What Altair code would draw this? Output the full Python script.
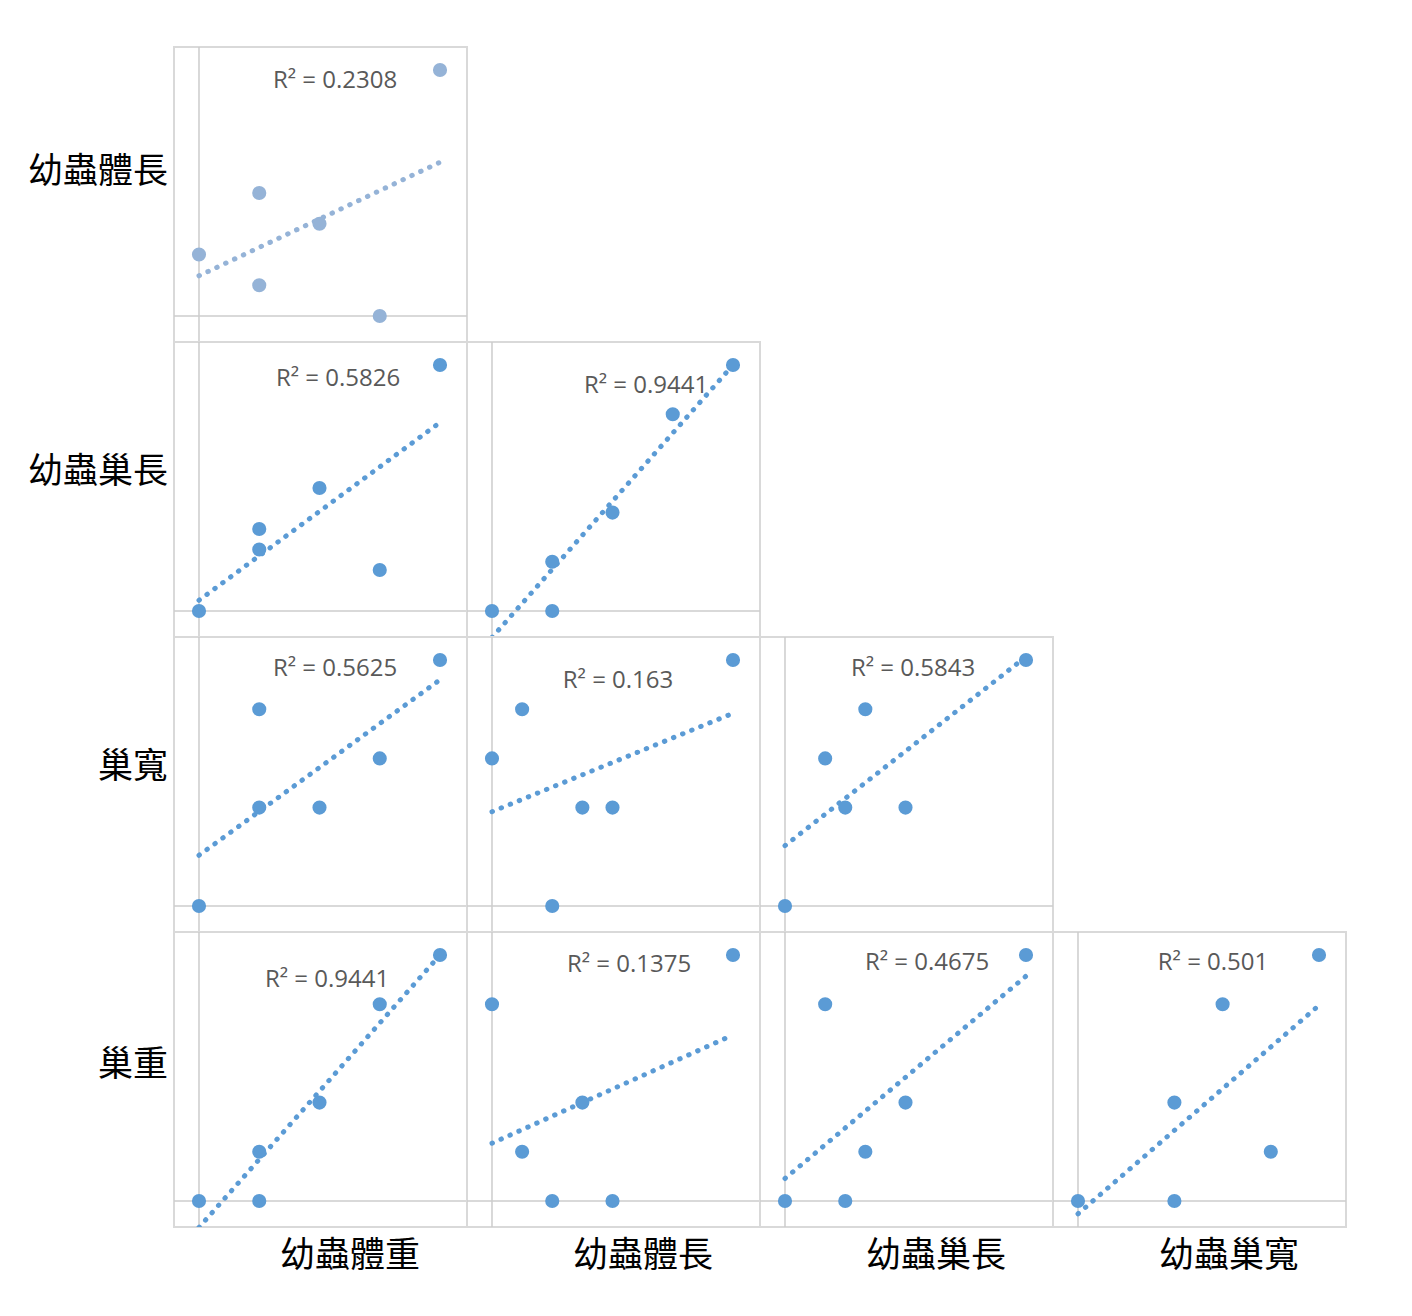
import altair as alt
import pandas as pd

# ---- data (six samples) ----
larva_weight = [0, 1, 1, 2, 3, 4]      # 幼蟲體重
larva_length = [2, 4, 1, 3, 0, 8]      # 幼蟲體長
nest_length = [0, 3, 4, 6, 2, 12]      # 幼蟲巢長
nest_width = [0, 2, 4, 2, 3, 5]        # 巢寬 / 幼蟲巢寬
nest_weight = [0, 0, 1, 2, 4, 5]       # 巢重

row_labels = ["幼蟲體長", "幼蟲巢長", "巢寬", "巢重"]
col_labels = ["幼蟲體重", "幼蟲體長", "幼蟲巢長", "幼蟲巢寬"]

variables = {
    "weight": larva_weight,
    "length": larva_length,
    "nest_length": nest_length,
    "nest_width": nest_width,
    "nest_weight": nest_weight,
}

# (row, col, x variable, y variable, R² label)
panel_specs = [
    (0, 0, "weight", "length", "R² = 0.2308"),
    (1, 0, "weight", "nest_length", "R² = 0.5826"),
    (1, 1, "weight", "nest_weight", "R² = 0.9441"),
    (2, 0, "weight", "nest_width", "R² = 0.5625"),
    (2, 1, "length", "nest_width", "R² = 0.163"),
    (2, 2, "nest_length", "nest_width", "R² = 0.5843"),
    (3, 0, "weight", "nest_weight", "R² = 0.9441"),
    (3, 1, "length", "nest_weight", "R² = 0.1375"),
    (3, 2, "nest_length", "nest_weight", "R² = 0.4675"),
    (3, 3, "nest_width", "nest_weight", "R² = 0.501"),
]

# ---- style ----
PW, PH = 293, 295          # panel size
LABEL_W, LABEL_H = 166, 60
BLUE = "#5b9bd5"
PALE = "#95b3d7"
AXIS_GRAY = "#cccccc"
BORDER = "#d9d9d9"
TEXT_GRAY = "#595959"
CJK = "Noto Sans CJK TC"
LATIN = "Open Sans"

# R² label centre inside each panel (pixels)
r2_pos = {
    (0, 0): (161, 34), (1, 0): (164, 37), (1, 1): (179, 44),
    (2, 0): (161, 32), (2, 1): (151, 44), (2, 2): (153, 32),
    (3, 0): (153, 48), (3, 1): (162, 33), (3, 2): (167, 31), (3, 3): (160, 31),
}
row_label_y = [125, 130, 130, 133]

hidden_view = alt.ViewBackground(strokeOpacity=0)
panel_view = alt.ViewBackground(stroke=BORDER, strokeWidth=2, strokeOpacity=1)


def panel(r, c, xv, yv, r2):
    df = pd.DataFrame({"x": variables[xv], "y": variables[yv]})
    xmax, ymax = max(df["x"]), max(df["y"])
    xs = alt.Scale(domain=[-0.1037 * xmax, 1.112 * xmax], nice=False, zero=False)
    ys = alt.Scale(domain=[-0.1057 * ymax, 1.0935 * ymax], nice=False, zero=False)
    X = alt.X("x:Q", scale=xs, axis=None)
    Y = alt.Y("y:Q", scale=ys, axis=None)
    color = PALE if (r, c) == (0, 0) else BLUE

    origin = pd.DataFrame({"x": [0], "y": [0]})
    vrule = alt.Chart(origin).mark_rule(color=AXIS_GRAY, strokeWidth=1.5).encode(x=X)
    hrule = alt.Chart(origin).mark_rule(color=AXIS_GRAY, strokeWidth=1.5).encode(y=Y)
    base = alt.Chart(df)
    trend = base.transform_regression("x", "y").mark_line(
        color=color, strokeDash=[0.5, 9.3], strokeCap="round", strokeWidth=5, clip=True
    ).encode(x=X, y=Y)
    pts = base.mark_circle(size=200, opacity=1, color=color, clip=True).encode(x=X, y=Y)
    lx, ly = r2_pos[(r, c)]
    txt = alt.Chart(pd.DataFrame({"t": [r2]})).mark_text(
        font=LATIN, fontSize=24, color=TEXT_GRAY, align="center", baseline="middle"
    ).encode(text="t:N", x=alt.value(lx), y=alt.value(ly))
    return alt.layer(vrule, hrule, trend, pts, txt).properties(
        width=PW, height=PH, view=panel_view
    )


def blank(w, h):
    return alt.Chart(pd.DataFrame({"t": [""]})).mark_text().encode(
        text="t:N"
    ).properties(width=w, height=h, view=hidden_view)


def row_label(i):
    return alt.Chart(pd.DataFrame({"t": [row_labels[i]]})).mark_text(
        font=CJK, fontSize=35, color="#000000", align="right", baseline="middle"
    ).encode(text="t:N", x=alt.value(LABEL_W - 6), y=alt.value(row_label_y[i])).properties(
        width=LABEL_W, height=PH, view=hidden_view
    )


def col_label(j):
    return alt.Chart(pd.DataFrame({"t": [col_labels[j]]})).mark_text(
        font=CJK, fontSize=35, color="#000000", align="center", baseline="middle"
    ).encode(text="t:N", x=alt.value(176), y=alt.value(29)).properties(
        width=PW, height=LABEL_H, view=hidden_view
    )


lookup = {(r, c): (xv, yv, r2) for r, c, xv, yv, r2 in panel_specs}
cells = []
for r in range(4):
    cells.append(row_label(r))
    for c in range(4):
        if (r, c) in lookup:
            xv, yv, r2 = lookup[(r, c)]
            cells.append(panel(r, c, xv, yv, r2))
        else:
            cells.append(blank(PW, PH))
cells.append(blank(LABEL_W, LABEL_H))
for c in range(4):
    cells.append(col_label(c))

chart = alt.concat(*cells, columns=5, spacing=0, bounds="flush").properties(
    padding={"left": 0, "top": 37, "right": 0, "bottom": 0}
).configure_view(strokeOpacity=0).configure(background="white")

chart.save("out.html", embed_options={"renderer": "svg", "actions": False})
